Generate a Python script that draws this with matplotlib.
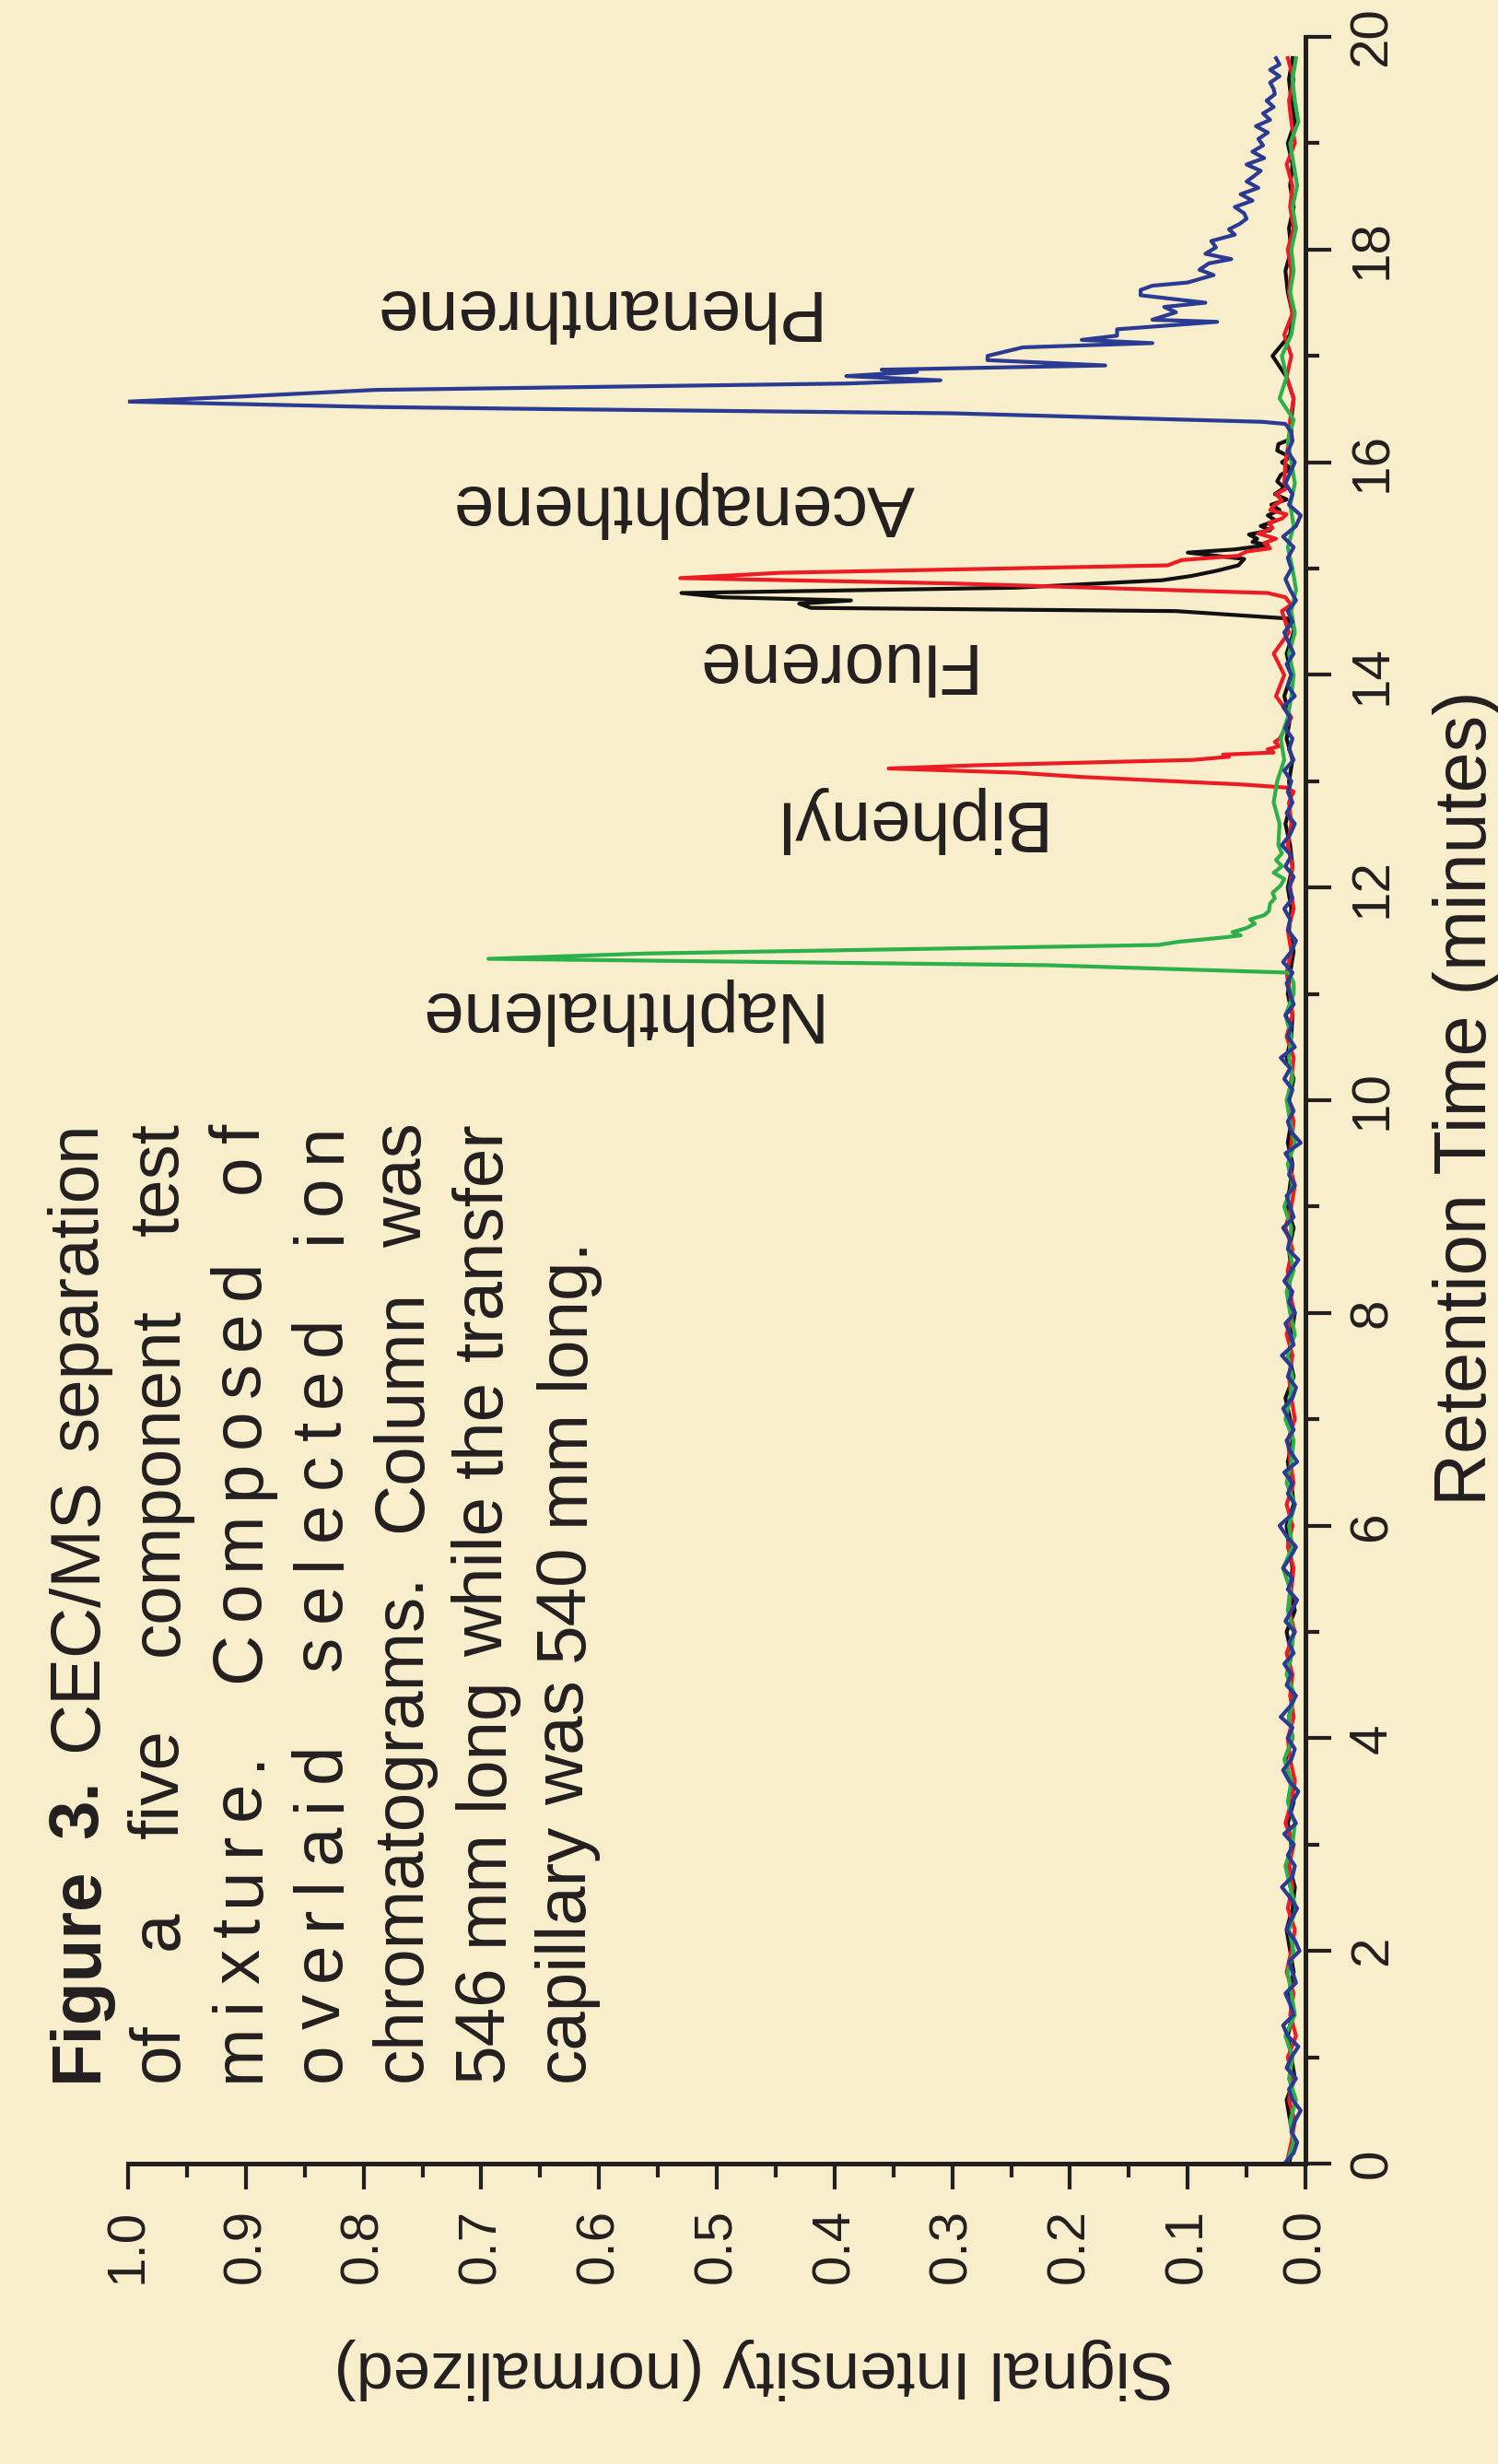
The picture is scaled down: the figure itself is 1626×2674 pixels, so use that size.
import numpy as np
import matplotlib
matplotlib.use("Agg")
import matplotlib.pyplot as plt
from matplotlib import font_manager
from matplotlib.font_manager import FontProperties
from matplotlib.ft2font import FT2Font
from matplotlib.ticker import MultipleLocator, FormatStrFormatter

W, H, DPI = 1626, 2674, 100
BG = "#f8eecb"
INK = "#231f20"

# sampling grids of the baselines (minutes)
grid_fine = np.round(np.arange(0, 16.25, 0.1), 1)    # 0.0 .. 16.2
grid_coarse = np.round(np.arange(0, 19.85, 0.2), 1)  # 0.0 .. 19.8

# --- phenanthrene trace (blue) ---
blue_base = [
    0.018, 0.010, 0.007, 0.012, 0.009, 0.004, 0.011, 0.014, 0.008, 0.016,
    0.012, 0.006, 0.015, 0.019, 0.010, 0.013, 0.017, 0.008, 0.011, 0.014,
    0.005, 0.009, 0.016, 0.012, 0.007, 0.013, 0.020, 0.011, 0.009, 0.015,
    0.010, 0.018, 0.008, 0.013, 0.011, 0.006, 0.014, 0.019, 0.012, 0.009,
    0.015, 0.011, 0.021, 0.013, 0.008, 0.016, 0.012, 0.018, 0.010, 0.014,
    0.009, 0.017, 0.012, 0.007, 0.015, 0.011, 0.019, 0.013, 0.008, 0.016,
    0.022, 0.012, 0.009, 0.015, 0.011, 0.018, 0.007, 0.013, 0.016, 0.010,
    0.014, 0.019, 0.011, 0.008, 0.015, 0.012, 0.020, 0.010, 0.013, 0.017,
    0.009, 0.014, 0.011, 0.018, 0.012, 0.006, 0.015, 0.013, 0.019, 0.010,
    0.013, 0.016, 0.009, 0.014, 0.011, 0.017, 0.004, 0.012, 0.015, 0.010,
    0.014, 0.011, 0.018, 0.013, 0.021, 0.009, 0.015, 0.012, 0.017, 0.010,
    0.013, 0.016, 0.011, 0.019, 0.012, 0.008, 0.015, 0.013, 0.018, 0.011,
    0.014, 0.010, 0.017, 0.012, 0.020, 0.013, 0.009, 0.016, 0.011, 0.015,
    0.012, 0.018, 0.010, 0.014, 0.011, 0.017, 0.013, 0.019, 0.009, 0.015,
    0.012, 0.016, 0.010, 0.014, 0.018, 0.011, 0.015, 0.008, 0.013, 0.017,
    0.012, 0.015, 0.010, 0.019, 0.008, 0.004, 0.014, 0.011, 0.017, 0.013,
    0.009, 0.015, 0.011,
]
blue_peak_t = [
    16.28, 16.33, 16.36, 16.38, 16.46, 16.50, 16.52, 16.57, 16.62, 16.68,
    16.74, 16.77, 16.81, 16.85, 16.87, 16.91, 16.96, 17.00, 17.08, 17.12,
    17.15, 17.19, 17.25, 17.32, 17.34, 17.41, 17.46, 17.50, 17.57, 17.62,
    17.66, 17.69, 17.76, 17.81, 17.87, 17.91, 17.96, 18.02, 18.08, 18.14,
    18.19, 18.24, 18.29, 18.34, 18.40, 18.46, 18.52, 18.58, 18.64, 18.68,
    18.74, 18.80, 18.86, 18.92, 18.98, 19.04, 19.10, 19.16, 19.22, 19.28,
    19.34, 19.40, 19.46, 19.51, 19.57, 19.63, 19.69, 19.74, 19.80,
]
blue_peak_i = [
    0.012, 0.015, 0.017, 0.037, 0.30, 0.645, 0.795, 1.0, 0.90, 0.79,
    0.39, 0.31, 0.39, 0.33, 0.36, 0.17, 0.27, 0.27, 0.24, 0.13,
    0.19, 0.16, 0.16, 0.075, 0.13, 0.11, 0.12, 0.085, 0.14, 0.14,
    0.13, 0.10, 0.078, 0.09, 0.082, 0.063, 0.085, 0.076, 0.08, 0.06,
    0.065, 0.056, 0.05, 0.052, 0.06, 0.045, 0.055, 0.04, 0.05, 0.045,
    0.038, 0.05, 0.035, 0.045, 0.036, 0.04, 0.032, 0.042, 0.03, 0.036,
    0.027, 0.033, 0.026, 0.027, 0.03, 0.022, 0.03, 0.022, 0.025,
]

# --- naphthalene trace (green) ---
green_base = [
    0.016, 0.010, 0.013, 0.008, 0.014, 0.011, 0.017, 0.009, 0.012, 0.015,
    0.010, 0.014, 0.008, 0.013, 0.017, 0.011, 0.009, 0.015, 0.012, 0.018,
    0.011, 0.014, 0.009, 0.016, 0.012, 0.010, 0.015, 0.013, 0.019, 0.011,
    0.014, 0.009, 0.016, 0.012, 0.010, 0.017, 0.013, 0.011, 0.015, 0.009,
    0.013, 0.016, 0.010, 0.014, 0.012, 0.018, 0.011, 0.015, 0.009, 0.013,
    0.016, 0.011, 0.014, 0.012, 0.017, 0.010, 0.014, 0.030, 0.030, 0.026,
    0.021, 0.020, 0.025, 0.022, 0.027, 0.024, 0.018, 0.021, 0.015, 0.012,
    0.010, 0.014, 0.009, 0.012, 0.008, 0.011, 0.015, 0.010, 0.013, 0.009,
    0.012, 0.015, 0.010, 0.022, 0.016, 0.020, 0.012, 0.009, 0.013, 0.010,
    0.012, 0.008, 0.011, 0.007, 0.010, 0.013, 0.006, 0.009, 0.011, 0.008,
]
green_peak_t = [
    11.10, 11.15, 11.20, 11.27, 11.33, 11.38, 11.46, 11.49, 11.53, 11.55,
    11.58, 11.62, 11.66, 11.70, 11.74, 11.78, 11.85, 11.90, 11.95, 12.02,
    12.08, 12.14, 12.20, 12.26, 12.32, 12.40,
]
green_peak_i = [
    0.010, 0.012, 0.014, 0.22, 0.694, 0.56, 0.125, 0.108, 0.07, 0.055,
    0.062, 0.05, 0.043, 0.047, 0.035, 0.031, 0.03, 0.026, 0.028, 0.021,
    0.018, 0.027, 0.02, 0.025, 0.02, 0.023,
]

# --- biphenyl + acenaphthene trace (red) ---
red_base = [
    0.016, 0.012, 0.009, 0.014, 0.011, 0.015, 0.008, 0.013, 0.010, 0.016,
    0.012, 0.009, 0.015, 0.011, 0.014, 0.010, 0.017, 0.012, 0.009, 0.013,
    0.015, 0.010, 0.013, 0.011, 0.016, 0.009, 0.014, 0.012, 0.010, 0.015,
    0.011, 0.016, 0.010, 0.013, 0.015, 0.009, 0.012, 0.014, 0.011, 0.016,
    0.010, 0.013, 0.015, 0.011, 0.017, 0.012, 0.009, 0.014, 0.012, 0.010,
    0.015, 0.012, 0.010, 0.016, 0.011, 0.013, 0.016, 0.012, 0.015, 0.010,
    0.013, 0.011, 0.015, 0.012, 0.014, 0.012, 0.016, 0.022, 0.012, 0.025,
    0.018, 0.027, 0.014, 0.020, 0.016, 0.012, 0.028, 0.030, 0.022, 0.018,
    0.017, 0.014, 0.013, 0.010, 0.016, 0.012, 0.018, 0.011, 0.014, 0.012,
    0.015, 0.010, 0.013, 0.011, 0.016, 0.009, 0.012, 0.014, 0.010, 0.015,
]
red_bip_t = [
    12.86, 12.90, 12.94, 12.97, 13.04, 13.08, 13.12, 13.15, 13.20, 13.23,
    13.25, 13.27, 13.30, 13.33, 13.37,
]
red_bip_i = [
    0.012, 0.010, 0.016, 0.055, 0.19, 0.245, 0.354, 0.28, 0.096, 0.065,
    0.07, 0.027, 0.032, 0.022, 0.026,
]
red_ace_t = [
    14.66, 14.70, 14.73, 14.77, 14.86, 14.91, 14.96, 15.03, 15.06, 15.08,
    15.12, 15.16, 15.19, 15.24, 15.28, 15.33, 15.38, 15.43, 15.47, 15.51,
    15.55, 15.59, 15.64, 15.70, 15.76,
]
red_ace_i = [
    0.012, 0.015, 0.017, 0.032, 0.30, 0.531, 0.446, 0.117, 0.11, 0.105,
    0.057, 0.05, 0.03, 0.035, 0.025, 0.04, 0.028, 0.031, 0.02, 0.016,
    0.03, 0.027, 0.02, 0.025, 0.015,
]

# --- fluorene trace (black) ---
black_base = [
    0.014, 0.010, 0.013, 0.016, 0.009, 0.012, 0.015, 0.011, 0.014, 0.010,
    0.013, 0.016, 0.011, 0.009, 0.014, 0.012, 0.015, 0.010, 0.013, 0.017,
    0.011, 0.014, 0.010, 0.015, 0.012, 0.016, 0.009, 0.013, 0.011, 0.014,
    0.016, 0.010, 0.012, 0.015, 0.011, 0.013, 0.017, 0.010, 0.014, 0.012,
    0.009, 0.015, 0.012, 0.014, 0.010, 0.016, 0.013, 0.011, 0.015, 0.012,
    0.014, 0.010, 0.016, 0.012, 0.011, 0.015, 0.013, 0.010, 0.014, 0.012,
    0.015, 0.011, 0.013, 0.017, 0.012, 0.014, 0.011, 0.016, 0.013, 0.018,
    0.012, 0.016, 0.010, 0.014, 0.020, 0.020, 0.020, 0.020, 0.020, 0.020,
    0.020, 0.015, 0.012, 0.010, 0.016, 0.028, 0.013, 0.011, 0.015, 0.017,
    0.012, 0.014, 0.010, 0.013, 0.011, 0.015, 0.009, 0.012, 0.014, 0.011,
]
black_flu_t = [
    14.44, 14.49, 14.53, 14.60, 14.63, 14.67, 14.70, 14.73, 14.77, 14.82,
    14.89, 14.93, 14.98, 15.03, 15.09, 15.15, 15.18, 15.22, 15.25, 15.28,
    15.32, 15.36, 15.40, 15.45, 15.50, 15.55, 15.60, 15.65, 15.70, 15.76,
    15.82, 15.88, 15.94, 16.00, 16.05, 16.11, 16.17, 16.22,
]
black_flu_i = [
    0.010, 0.013, 0.015, 0.11, 0.42, 0.43, 0.386, 0.495, 0.53, 0.246,
    0.122, 0.097, 0.075, 0.057, 0.052, 0.10, 0.06, 0.032, 0.045, 0.041,
    0.048, 0.03, 0.038, 0.025, 0.032, 0.022, 0.029, 0.016, 0.026, 0.018,
    0.024, 0.021, 0.012, 0.02, 0.013, 0.024, 0.023, 0.012,
]

peak_names = ["Naphthalene", "Biphenyl", "Fluorene", "Acenaphthene", "Phenanthrene"]
# label anchors (intensity, retention time) at the text baseline
peak_label_pos = [(0.587, 11.01), (0.341, 12.82), (0.404, 14.30), (0.528, 15.78), (0.607, 17.62)]

caption_lines = [
    "Figure 3. CEC/MS separation",
    "of a five component test",
    "mixture. Composed of",
    "overlaid selected ion",
    "chromatograms. Column was",
    "546 mm long while the transfer",
    "capillary was 540 mm long.",
]
caption_modes = ["words", "words", "letters", "letters", "words", "words", "natural"]


def splice(base_t, base_i, *peaks):
    t = np.asarray(base_t, float)
    i = np.asarray(base_i, float)
    keep = np.ones(t.size, bool)
    for pt, _ in peaks:
        keep &= (t < pt[0]) | (t > pt[-1])
    tt = np.concatenate([t[keep]] + [np.asarray(p[0], float) for p in peaks])
    ii = np.concatenate([i[keep]] + [np.asarray(p[1], float) for p in peaks])
    order = np.argsort(tt, kind="stable")
    return tt[order], ii[order]


def advance(s, prop):
    font = FT2Font(font_manager.findfont(prop), hinting_factor=1)
    font.set_size(prop.get_size_in_points(), DPI)
    return sum(font.load_char(ord(c)).linearHoriAdvance for c in s) / 65536


plt.rcParams["font.family"] = ["Liberation Sans", "DejaVu Sans"]

installed = {f.name for f in font_manager.fontManager.ttflist}
if "Liberation Sans Narrow" in installed:
    peak_font = FontProperties(family="Liberation Sans Narrow", size=67)
else:
    peak_font = FontProperties(family="Liberation Sans", size=56)

green_t, green_i = splice(grid_coarse, green_base, (green_peak_t, green_peak_i))
red_t, red_i = splice(grid_coarse, red_base, (red_bip_t, red_bip_i), (red_ace_t, red_ace_i))
black_t, black_i = splice(grid_coarse, black_base, (black_flu_t, black_flu_i))
blue_t = np.concatenate([grid_fine, blue_peak_t])
blue_i = np.concatenate([blue_base, blue_peak_i])

fig = plt.figure(figsize=(W / DPI, H / DPI), dpi=DPI, facecolor=BG)
ax = fig.add_axes([139 / W, (H - 2348) / H, (1417 - 139) / W, (2348 - 40) / H])
ax.set_facecolor(BG)

lw = 3.0
ax.plot(black_i, black_t, color="#111111", lw=lw)
ax.plot(red_i, red_t, color="#ec1c24", lw=lw)
ax.plot(green_i, green_t, color="#2cb14a", lw=lw)
ax.plot(blue_i, blue_t, color="#2b3a93", lw=lw)

ax.set_xlim(1.0, 0.0)
ax.set_ylim(0, 20)
for side in ["left", "top"]:
    ax.spines[side].set_visible(False)
for side in ["bottom", "right"]:
    ax.spines[side].set_linewidth(3.6)
    ax.spines[side].set_color(INK)

ax.yaxis.tick_right()
ax.xaxis.set_major_locator(MultipleLocator(0.1))
ax.xaxis.set_minor_locator(MultipleLocator(0.05))
ax.xaxis.set_major_formatter(FormatStrFormatter("%.1f"))
ax.yaxis.set_major_locator(MultipleLocator(2))
ax.yaxis.set_minor_locator(MultipleLocator(1))
ax.tick_params(which="major", length=20, width=3, direction="out",
               labelsize=42, color=INK, labelcolor=INK)
ax.tick_params(which="minor", length=10.5, width=3, direction="out", color=INK)
ax.tick_params(axis="x", labelrotation=90, pad=15)
ax.tick_params(axis="y", labelrotation=90, pad=13)
for lbl in ax.get_yticklabels():
    lbl.set_va("center")

for name, (xi, yt) in zip(peak_names, peak_label_pos):
    ax.text(xi, yt, name, fontproperties=peak_font, color=INK, rotation=180,
            rotation_mode="anchor", ha="center", va="baseline")

fig.text(1613 / W, 1 - 1192 / H, "Retention Time (minutes)", fontsize=57, color=INK,
         rotation=90, rotation_mode="anchor", ha="center", va="baseline")
fig.text(819 / W, 1 - 2552 / H, "Signal Intensity (normalized)", fontsize=52, color=INK,
         rotation=180, rotation_mode="anchor", ha="center", va="baseline")

# justified caption, set sideways like the chart
reg = FontProperties(family="Liberation Sans", size=55)
bold = FontProperties(family="Liberation Sans", weight="bold", size=55)
cap_x0, cap_dx = 105, 88
cap_y0, cap_len = 2259, 1040


def put(px, py, s, prop):
    fig.text(px / W, 1 - py / H, s, fontproperties=prop, color=INK, rotation=90,
             rotation_mode="anchor", ha="left", va="baseline")


space = advance(" ", reg)
for k, (line, mode) in enumerate(zip(caption_lines, caption_modes)):
    bx = cap_x0 + k * cap_dx
    words = line.split()
    if mode == "letters":
        # letter-spaced line: word breaks count as four letter gaps
        adv = sum(advance(w, reg) for w in words)
        inner = sum(len(w) - 1 for w in words)
        g = (cap_len - adv - (len(words) - 1) * space) / (inner + 4 * (len(words) - 1))
        p = 0
        for w in words:
            for c in w:
                put(bx, cap_y0 - p, c, reg)
                p += advance(c, reg) + g
            p += space + 3 * g
    else:
        props = [bold if (k == 0 and w in ("Figure", "3.")) else reg for w in words]
        widths = [advance(w, pr) for w, pr in zip(words, props)]
        if mode == "words":
            gap = (cap_len - sum(widths)) / (len(words) - 1)
        else:
            gap = space
        p = 0
        for w, pr, wd in zip(words, props, widths):
            put(bx, cap_y0 - p, w, pr)
            p += wd + gap

fig.savefig("out.png", dpi=DPI, facecolor=BG)
